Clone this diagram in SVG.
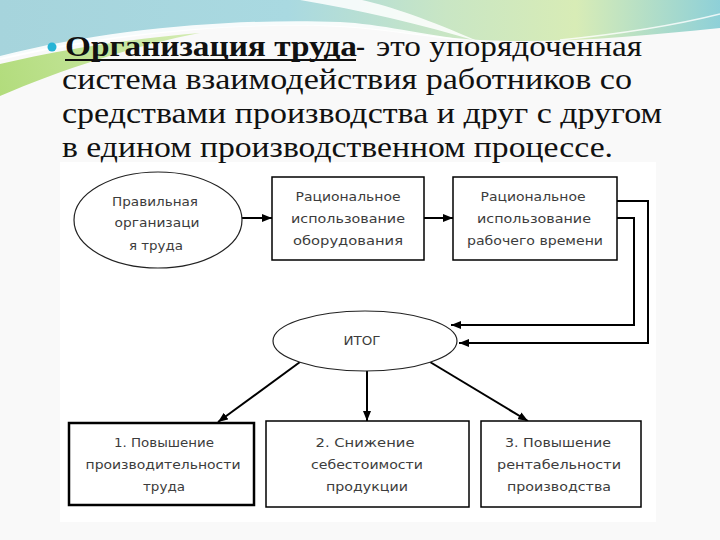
<svg xmlns="http://www.w3.org/2000/svg" width="720" height="540" viewBox="0 0 720 540">
<defs>
<linearGradient id="sky" x1="0" y1="0" x2="720" y2="0" gradientUnits="userSpaceOnUse">
<stop offset="0" stop-color="#a6d4dc"/>
<stop offset="0.4" stop-color="#a9d9e1"/>
<stop offset="0.62" stop-color="#c9e6c4"/>
<stop offset="0.8" stop-color="#d8ecb6"/>
<stop offset="1" stop-color="#8ed0d8"/>
</linearGradient>
<linearGradient id="grn" x1="0" y1="95" x2="200" y2="30" gradientUnits="userSpaceOnUse">
<stop offset="0" stop-color="#b2dc7c"/>
<stop offset="1" stop-color="#d4ecb4"/>
</linearGradient>
<marker id="ah" viewBox="0 0 10 8" refX="10" refY="4" markerWidth="10" markerHeight="8" markerUnits="userSpaceOnUse" orient="auto">
<path d="M0,0 L10,4 L0,8 z" fill="#000"/>
</marker>
<style>
.title{font-family:"Liberation Serif","DejaVu Serif","Times New Roman",serif;font-size:30px;fill:#111}
.lbl{font-family:"DejaVu Sans","Liberation Sans",sans-serif;font-size:12.5px;fill:#3c3c3c;text-anchor:middle}
.box{fill:#fff;stroke:#000;stroke-width:1.5}
.ell{fill:#fff;stroke:#222;stroke-width:1.2}
.con{fill:none;stroke:#000;stroke-width:2;marker-end:url(#ah)}
</style>
</defs>
<rect x="0" y="0" width="720" height="540" fill="#f9f9f9"/>
<path d="M0,0 H720 V28 C640,36 560,44 480,40 C420,36 380,28 340,26 C250,22 120,30 0,58 Z" fill="url(#sky)"/>
<path d="M0,64 C60,50 120,40 200,33 C140,44 60,70 0,96 Z" fill="url(#grn)"/>
<path d="M0,60 C120,32 250,22 340,27 C390,30 430,38 480,42 C420,34 380,24 340,22 C240,18 110,28 0,56 Z" fill="#ffffff" opacity="0.9"/>
<path d="M300,0 C360,10 420,24 480,42 C430,20 390,6 362,0 Z" fill="#ffffff" opacity="0.85"/>
<path d="M560,40 C620,34 680,24 720,14" fill="none" stroke="#ffffff" stroke-width="1.5" opacity="0.8"/>
<rect x="60" y="162" width="596" height="360" fill="#ffffff"/>

<g id="title">
<circle cx="52" cy="47" r="4.5" fill="#26b4d6"/>
<text class="title" x="65" y="56" font-weight="bold" textLength="292" lengthAdjust="spacingAndGlyphs">Организация труда</text>
<line x1="65" y1="60" x2="356" y2="60" stroke="#111" stroke-width="2"/>
<text class="title" x="356" y="56" textLength="9" lengthAdjust="spacingAndGlyphs">-</text>
<text class="title" x="376" y="56" textLength="266" lengthAdjust="spacingAndGlyphs">это упорядоченная</text>
<text class="title" x="62" y="89" textLength="570" lengthAdjust="spacingAndGlyphs">система взаимодействия работников со</text>
<text class="title" x="62" y="123" textLength="600" lengthAdjust="spacingAndGlyphs">средствами производства и друг с другом</text>
<text class="title" x="62" y="157" textLength="551" lengthAdjust="spacingAndGlyphs">в едином производственном процессе.</text>
</g>

<g id="connectors">
<path class="con" d="M242,218 H272"/>
<path class="con" d="M424,218 H453"/>
<path class="con" d="M617,201 H648 V343 H459"/>
<path class="con" d="M617,218 H634 V325 H451"/>
<path class="con" d="M300,362 L218,422"/>
<path class="con" d="M367,371 V421"/>
<path class="con" d="M430,362 L528,421"/>
</g>

<g id="node-start">
<ellipse class="ell" cx="158" cy="220" rx="84" ry="48"/>
<text class="lbl" x="155" y="206" textLength="86" lengthAdjust="spacingAndGlyphs">Правильная</text>
<text class="lbl" x="157" y="227" textLength="85" lengthAdjust="spacingAndGlyphs">организаци</text>
<text class="lbl" x="156" y="250" textLength="54" lengthAdjust="spacingAndGlyphs">я труда</text>
</g>

<g id="node-equipment">
<rect class="box" x="272" y="177" width="152" height="83"/>
<text class="lbl" x="348" y="201" textLength="105" lengthAdjust="spacingAndGlyphs">Рациональное</text>
<text class="lbl" x="348" y="223" textLength="114" lengthAdjust="spacingAndGlyphs">использование</text>
<text class="lbl" x="348" y="245" textLength="110" lengthAdjust="spacingAndGlyphs">оборудования</text>
</g>

<g id="node-worktime">
<rect class="box" x="453" y="177" width="164" height="83"/>
<text class="lbl" x="533" y="201" textLength="105" lengthAdjust="spacingAndGlyphs">Рациональное</text>
<text class="lbl" x="534" y="223" textLength="114" lengthAdjust="spacingAndGlyphs">использование</text>
<text class="lbl" x="535" y="245" textLength="136" lengthAdjust="spacingAndGlyphs">рабочего времени</text>
</g>

<g id="node-itog">
<ellipse class="ell" cx="365" cy="341" rx="92" ry="30"/>
<text class="lbl" x="362" y="345" textLength="37" lengthAdjust="spacingAndGlyphs">ИТОГ</text>
</g>

<g id="node-result1">
<rect x="69" y="423" width="185" height="82" fill="#fff" stroke="#000" stroke-width="2.5"/>
<text class="lbl" x="164" y="447" textLength="100" lengthAdjust="spacingAndGlyphs">1. Повышение</text>
<text class="lbl" x="163" y="469" textLength="155" lengthAdjust="spacingAndGlyphs">производительности</text>
<text class="lbl" x="164" y="491" textLength="42" lengthAdjust="spacingAndGlyphs">труда</text>
</g>

<g id="node-result2">
<rect class="box" x="266" y="421" width="203" height="86"/>
<text class="lbl" x="365" y="447" textLength="99" lengthAdjust="spacingAndGlyphs">2. Снижение</text>
<text class="lbl" x="367" y="469" textLength="112" lengthAdjust="spacingAndGlyphs">себестоимости</text>
<text class="lbl" x="367" y="491" textLength="82" lengthAdjust="spacingAndGlyphs">продукции</text>
</g>

<g id="node-result3">
<rect class="box" x="481" y="421" width="160" height="86"/>
<text class="lbl" x="558" y="447" textLength="106" lengthAdjust="spacingAndGlyphs">3. Повышение</text>
<text class="lbl" x="559" y="469" textLength="124" lengthAdjust="spacingAndGlyphs">рентабельности</text>
<text class="lbl" x="559" y="491" textLength="104" lengthAdjust="spacingAndGlyphs">производства</text>
</g>
</svg>
